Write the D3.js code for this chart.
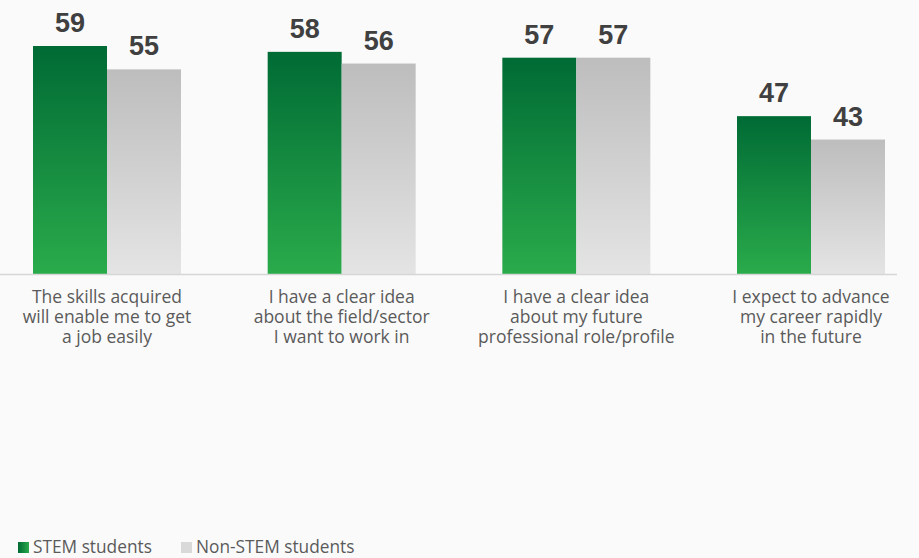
<!DOCTYPE html>
<html>
<head>
<meta charset="utf-8">
<script src="https://cdn.jsdelivr.net/npm/d3@7"></script>
<style>
  html, body { margin: 0; padding: 0; background: #fafafa; }
  svg { display: block; }
</style>
</head>
<body>
<div id="chart"></div>
<script>
const categories = [
  ['The skills acquired', 'will enable me to get', 'a job easily'],
  ['I have a clear idea', 'about the field/sector', 'I want to work in'],
  ['I have a clear idea', 'about my future', 'professional role/profile'],
  ['I expect to advance', 'my career rapidly', 'in the future']
];
const seriesNames = ['STEM students', 'Non-STEM students'];
const stemValues = [59, 58, 57, 47];
const nonStemValues = [55, 56, 57, 43];

const width = 919, height = 558;

const svg = d3.select('#chart').append('svg')
  .attr('width', width)
  .attr('height', height);

svg.append('rect')
  .attr('width', width)
  .attr('height', height)
  .attr('fill', '#fafafa');

const defs = svg.append('defs');
function gradient(id, top, bottom, horizontal) {
  const g = defs.append('linearGradient')
    .attr('id', id)
    .attr('x1', 0).attr('y1', 0)
    .attr('x2', horizontal ? 1 : 0).attr('y2', horizontal ? 0 : 1);
  g.append('stop').attr('offset', '0%').attr('stop-color', top);
  g.append('stop').attr('offset', '100%').attr('stop-color', bottom);
}
gradient('stemGrad', '#006b35', '#2aab4b');
gradient('nonGrad', '#bcbdbc', '#e4e4e4');
gradient('stemLegend', '#006b35', '#2aab4b', true);

const fills = ['url(#stemGrad)', 'url(#nonGrad)'];

const data = categories.map((c, i) => ({
  idx: i,
  label: c,
  values: [stemValues[i], nonStemValues[i]]
}));

const step = 704 / 3;
const x0 = d3.scaleBand()
  .domain(data.map(d => d.idx))
  .range([33 - (step - 148) / 2, 33 - (step - 148) / 2 + step * 4])
  .paddingInner((step - 148) / step)
  .paddingOuter((step - 148) / step / 2);

const x1 = d3.scaleBand()
  .domain(seriesNames)
  .range([0, x0.bandwidth()])
  .padding(0);

const y = d3.scaleLinear()
  .domain([20, 59])
  .range([274, 46]);

const groups = svg.selectAll('g.group')
  .data(data)
  .enter().append('g')
    .attr('class', 'group')
    .attr('transform', d => `translate(${x0(d.idx)},0)`);

groups.selectAll('rect')
  .data(d => d.values.map((v, j) => ({ key: seriesNames[j], value: v, j })))
  .enter().append('rect')
    .attr('x', d => x1(d.key))
    .attr('y', d => y(d.value))
    .attr('width', x1.bandwidth())
    .attr('height', d => y(20) - y(d.value))
    .attr('fill', d => fills[d.j]);

groups.selectAll('text.value')
  .data(d => d.values.map((v, j) => ({ key: seriesNames[j], value: v })))
  .enter().append('text')
    .attr('class', 'value')
    .attr('x', d => x1(d.key) + x1.bandwidth() / 2)
    .attr('y', d => y(d.value) - 14)
    .attr('text-anchor', 'middle')
    .attr('font-family', '"Liberation Sans", Arial, sans-serif')
    .attr('font-weight', 'bold')
    .attr('font-size', '27px')
    .attr('fill', '#404040')
    .text(d => d.value);

// baseline
svg.append('line')
  .attr('x1', 0).attr('x2', 897)
  .attr('y1', y(20) + 0.5).attr('y2', y(20) + 0.5)
  .attr('stroke', '#d6d6d6')
  .attr('stroke-width', 1.5);

// category labels
const xAxis = svg.append('g')
  .attr('transform', `translate(0,${y(20)})`)
  .call(d3.axisBottom(x0).tickSize(0).tickFormat(''));
xAxis.select('.domain').remove();

xAxis.selectAll('.tick text')
  .attr('y', 0)
  .attr('dy', 0)
  .attr('font-family', '"Open Sans", sans-serif')
  .attr('font-size', '17.5px')
  .attr('fill', '#5a5a5a')
  .each(function(i) {
    const t = d3.select(this);
    categories[i].forEach((line, k) => {
      t.append('tspan')
        .attr('x', 0)
        .attr('y', 28.7 + k * 20)
        .text(line);
    });
  });

// legend
const legend = svg.append('g').attr('transform', 'translate(18,542)');
const legendItems = legend.selectAll('g')
  .data(seriesNames)
  .enter().append('g')
    .attr('transform', (d, i) => `translate(${i === 0 ? 0 : 163},0)`);
legendItems.append('rect')
  .attr('width', 11)
  .attr('height', 11)
  .attr('fill', (d, i) => i === 0 ? 'url(#stemLegend)' : '#d9d9d9');
legendItems.append('text')
  .attr('x', 15)
  .attr('y', 10.5)
  .attr('font-family', '"Open Sans", sans-serif')
  .attr('font-size', '17.3px')
  .attr('fill', '#5a5a5a')
  .text(d => d);
</script>
</body>
</html>
